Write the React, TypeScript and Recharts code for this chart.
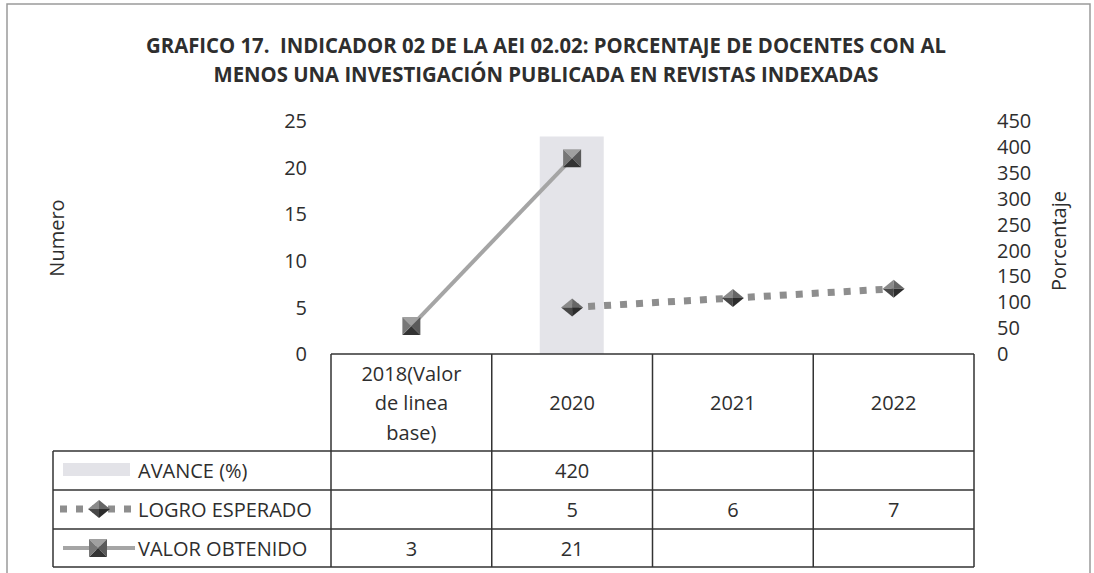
import { ComposedChart, Bar, Line, XAxis, YAxis } from "recharts";

const categories = ["2018(Valor de linea base)", "2020", "2021", "2022"];
const avance = [null, 420, null, null];
const logroEsperado = [null, 5, 6, 7];
const valorObtenido = [3, 21, null, null];
const leftTicks = [0, 5, 10, 15, 20, 25];
const rightTicks = [0, 50, 100, 150, 200, 250, 300, 350, 400, 450];
const titleLines = [
  "GRAFICO 17.  INDICADOR 02 DE LA AEI 02.02: PORCENTAJE DE DOCENTES CON AL",
  "MENOS UNA INVESTIGACIÓN PUBLICADA EN REVISTAS INDEXADAS",
];
const seriesNames = ["AVANCE (%)", "LOGRO ESPERADO", "VALOR OBTENIDO"];

const data = categories.map((c, i) => ({
  name: c,
  avance: avance[i],
  logro: logroEsperado[i],
  valor: valorObtenido[i],
}));

const W = 1094;
const H = 573;
const PLOT_L = 331;
const PLOT_R = 974;
const PLOT_T = 121;
const PLOT_B = 354;
const HEAD_B = 451;
const ROWS = [451, 490, 529, 567];
const LEG_L = 53;
const FONT = "'Open Sans', 'Noto Sans', sans-serif";
const INK = "#2e2e2e";

function wrap(s: string, max: number) {
  const out: string[] = [];
  let cur = "";
  for (const w of s.split(" ")) {
    if (cur && (cur + " " + w).length > max) {
      out.push(cur);
      cur = w;
    } else cur = cur ? cur + " " + w : w;
  }
  if (cur) out.push(cur);
  return out;
}

function HeaderTick(props: any) {
  const { x, y, payload } = props;
  const lines = wrap(String(payload.value), 10);
  const lh = 29.5;
  const mid = y + (HEAD_B - PLOT_B) / 2;
  const start = mid - ((lines.length - 1) * lh) / 2;
  return (
    <g>
      {lines.map((l, i) => (
        <text
          key={i}
          x={x}
          y={start + i * lh}
          textAnchor="middle"
          dominantBaseline="central"
          fontFamily={FONT}
          fontSize={20}
          fill={INK}
        >
          {l}
        </text>
      ))}
    </g>
  );
}

function Square({ cx, cy, s = 9 }: { cx: number; cy: number; s?: number }) {
  return (
    <g>
      <polygon points={`${cx - s},${cy - s} ${cx + s},${cy - s} ${cx},${cy}`} fill="#a0a0a0" />
      <polygon points={`${cx + s},${cy - s} ${cx + s},${cy + s} ${cx},${cy}`} fill="#5a5a5a" />
      <polygon points={`${cx + s},${cy + s} ${cx - s},${cy + s} ${cx},${cy}`} fill="#333333" />
      <polygon points={`${cx - s},${cy + s} ${cx - s},${cy - s} ${cx},${cy}`} fill="#777777" />
    </g>
  );
}

function Diamond({ cx, cy, w = 11, h = 9 }: { cx: number; cy: number; w?: number; h?: number }) {
  return (
    <g>
      <polygon points={`${cx - w},${cy} ${cx},${cy - h} ${cx},${cy}`} fill="#8a8a8a" />
      <polygon points={`${cx},${cy - h} ${cx + w},${cy} ${cx},${cy}`} fill="#666666" />
      <polygon points={`${cx + w},${cy} ${cx},${cy + h} ${cx},${cy}`} fill="#2c2c2c" />
      <polygon points={`${cx},${cy + h} ${cx - w},${cy} ${cx},${cy}`} fill="#474747" />
    </g>
  );
}

const squareDot = (p: any) =>
  p.cx == null || p.cy == null || p.value == null ? (
    <g key={p.index} />
  ) : (
    <g key={p.index}>
      <Square cx={p.cx} cy={p.cy} />
    </g>
  );

const diamondDot = (p: any) =>
  p.cx == null || p.cy == null || p.value == null ? (
    <g key={p.index} />
  ) : (
    <g key={p.index}>
      <Diamond cx={p.cx} cy={p.cy} />
    </g>
  );

function Overlay() {
  const colW = (PLOT_R - PLOT_L) / categories.length;
  const rowValues = [avance, logroEsperado, valorObtenido];
  const line = { stroke: "#333", strokeWidth: 1.5 };
  return (
    <svg
      width={W}
      height={H}
      style={{ position: "absolute", left: 0, top: 0, pointerEvents: "none" }}
    >
      {/* page frame */}
      <polyline points={`7,${H} 7,4 1090,4 1090,${H}`} fill="none" stroke="#9a9a9a" strokeWidth={1.5} />
      {titleLines.map((t, i) => (
        <text
          key={i}
          x={546}
          y={45 + i * 29}
          textAnchor="middle"
          dominantBaseline="central"
          fontFamily={FONT}
          fontWeight={700}
          fontSize={21}
          fill={INK}
          textLength={i === 0 ? 800 : 665}
          lengthAdjust="spacingAndGlyphs"
          style={{ whiteSpace: "pre" }}
        >
          {t}
        </text>
      ))}
      <text
        transform="translate(56,238) rotate(-90)"
        textAnchor="middle"
        dominantBaseline="central"
        fontFamily={FONT}
        fontSize={20}
        fill={INK}
      >
        Numero
      </text>
      <text
        transform="translate(1058,241) rotate(-90)"
        textAnchor="middle"
        dominantBaseline="central"
        fontFamily={FONT}
        fontSize={20}
        fill={INK}
      >
        Porcentaje
      </text>

      {/* data table */}
      <line x1={PLOT_L} y1={PLOT_B} x2={PLOT_R} y2={PLOT_B} {...line} />
      {categories.map((_, i) => (
        <line key={i} x1={PLOT_L + i * colW} y1={PLOT_B} x2={PLOT_L + i * colW} y2={ROWS[3]} {...line} />
      ))}
      <line x1={PLOT_R} y1={PLOT_B} x2={PLOT_R} y2={ROWS[3]} {...line} />
      <line x1={LEG_L} y1={ROWS[0]} x2={LEG_L} y2={ROWS[3]} {...line} />
      {ROWS.map((y, i) => (
        <line key={i} x1={LEG_L} y1={y} x2={PLOT_R} y2={y} {...line} />
      ))}
      {seriesNames.map((n, r) => {
        const cy = (ROWS[r] + ROWS[r + 1]) / 2;
        return (
          <g key={n}>
            <text
              x={138}
              y={cy}
              dominantBaseline="central"
              fontFamily={FONT}
              fontSize={20}
              fill={INK}
            >
              {n}
            </text>
            {rowValues[r].map((v, c) =>
              v == null ? null : (
                <text
                  key={c}
                  x={PLOT_L + (c + 0.5) * colW}
                  y={cy}
                  textAnchor="middle"
                  dominantBaseline="central"
                  fontFamily={FONT}
                  fontSize={20}
                  fill={INK}
                >
                  {v}
                </text>
              )
            )}
          </g>
        );
      })}
      {/* legend keys */}
      <rect x={63} y={463} width={67} height={13} fill="#e3e3e8" />
      <line x1={60} y1={509} x2={135} y2={509} stroke="#8e8e8e" strokeWidth={7} strokeDasharray="7 9" />
      <Diamond cx={99} cy={509} />
      <line x1={63} y1={548} x2={135} y2={548} stroke="#a5a5a5" strokeWidth={4} />
      <Square cx={98} cy={548} />
    </svg>
  );
}

export default function App() {
  return (
    <div style={{ position: "absolute", left: 0, top: 0, width: W, height: H, background: "#fff" }}>
      <ComposedChart
        width={W}
        height={H}
        data={data}
        margin={{ top: PLOT_T, right: W - PLOT_R - 60, bottom: H - PLOT_B - (HEAD_B - PLOT_B), left: PLOT_L - 60 }}
      >
        <XAxis
          dataKey="name"
          height={HEAD_B - PLOT_B}
          axisLine={false}
          tickLine={false}
          tickSize={0}
          tickMargin={0}
          interval={0}
          tick={<HeaderTick />}
        />
        <YAxis
          yAxisId="left"
          orientation="left"
          width={60}
          domain={[0, 25]}
          ticks={leftTicks}
          interval={0}
          axisLine={false}
          tickLine={false}
          tickSize={0}
          tickMargin={24}
          tick={{ fontFamily: FONT, fontSize: 20, fill: INK }}
        />
        <YAxis
          yAxisId="right"
          orientation="right"
          width={60}
          domain={[0, 450]}
          ticks={rightTicks}
          interval={0}
          axisLine={false}
          tickLine={false}
          tickSize={0}
          tickMargin={23}
          tick={{ fontFamily: FONT, fontSize: 20, fill: INK, textAnchor: "start" }}
        />
        <Bar yAxisId="right" dataKey="avance" barSize={64} fill="#e4e4e9" isAnimationActive={false} />
        <Line
          yAxisId="left"
          dataKey="valor"
          stroke="#a5a5a5"
          strokeWidth={4}
          dot={squareDot}
          activeDot={false}
          isAnimationActive={false}
        />
        <Line
          yAxisId="left"
          dataKey="logro"
          stroke="#8e8e8e"
          strokeWidth={7}
          strokeDasharray="7 9"
          dot={diamondDot}
          activeDot={false}
          isAnimationActive={false}
        />
      </ComposedChart>
      <Overlay />
    </div>
  );
}
